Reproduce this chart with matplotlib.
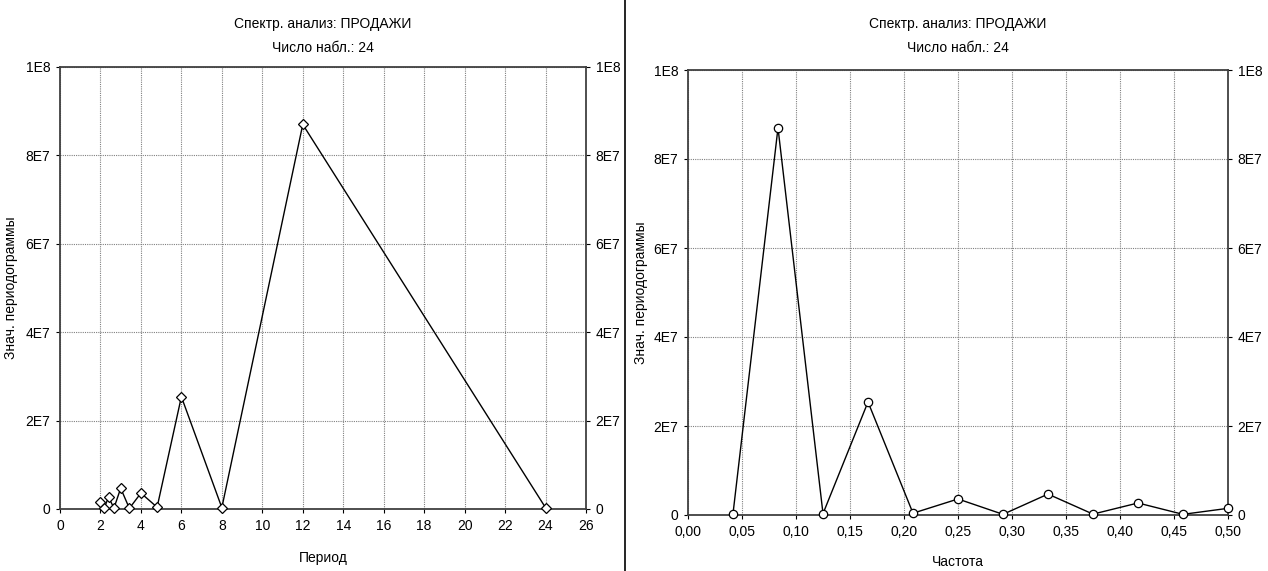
import matplotlib
matplotlib.use("Agg")
import matplotlib.pyplot as plt
from matplotlib.lines import Line2D

plt.rcParams['font.family'] = ['Liberation Sans Narrow', 'Liberation Sans', 'DejaVu Sans']

# Data
title1 = "Спектр. анализ: ПРОДАЖИ"
title2 = "Число набл.: 24"
frequencies = [0.04167, 0.08333, 0.125, 0.16667, 0.20833, 0.25, 0.29167,
               0.33333, 0.375, 0.41667, 0.45833, 0.5]
periods = [24, 12, 8, 6, 4.8, 4, 3.4286, 3, 2.6667, 2.4, 2.1818, 2]
periodogram = [0.3e6, 87.0e6, 0.3e6, 25.4e6, 0.4e6, 3.6e6, 0.15e6,
               4.7e6, 0.2e6, 2.7e6, 0.15e6, 1.5e6]
y_ticks = [0, 2e7, 4e7, 6e7, 8e7, 1e8]
y_labels = ['0', '2E7', '4E7', '6E7', '8E7', '1E8']
period_ticks = list(range(0, 27, 2))
freq_ticks = [0.0, 0.05, 0.10, 0.15, 0.20, 0.25, 0.30, 0.35, 0.40, 0.45, 0.50]

W, H = 1268, 571
fig = plt.figure(figsize=(W / 100, H / 100), dpi=100)
fs = 10


def make_axes(l, t, r, b):
    return fig.add_axes([l / W, 1 - b / H, (r - l) / W, (b - t) / H])


def style(ax, xlabel, xticks, xticklabels, xlim, ylabelpad, titlepad, xlabelpad):
    ax.set_ylim(0, 1e8)
    ax.set_xlim(*xlim)
    ax.set_yticks(y_ticks)
    ax.set_yticklabels(y_labels)
    ax.set_xticks(xticks)
    ax.set_xticklabels(xticklabels)
    ax.grid(True, color='#808080', linestyle=(0, (1, 1)), linewidth=0.8)
    ax.tick_params(axis='both', direction='out', length=3, width=0.8,
                   labelsize=fs, colors='black', pad=4)
    ax.tick_params(axis='y', right=True, labelright=True)
    for s in ax.spines.values():
        s.set_linewidth(1.3)
        s.set_color('#404040')
    ax.set_xlabel(xlabel, fontsize=fs, labelpad=xlabelpad)
    ax.set_ylabel('Знач. периодограммы', fontsize=fs, labelpad=ylabelpad)
    ax.set_title(title1 + "\n" + title2, fontsize=fs, linespacing=1.9, pad=titlepad)


ax1 = make_axes(60, 67, 586, 509)
ax1.plot(periods, periodogram, color='black', linewidth=1.0, marker='D',
         markersize=5.5, markerfacecolor='white', markeredgecolor='black',
         markeredgewidth=0.9, clip_on=False, zorder=3)
style(ax1, 'Период', period_ticks, [str(t) for t in period_ticks], (0, 26),
      ylabelpad=5, titlepad=11, xlabelpad=13)

ax2 = make_axes(688, 70, 1228, 515)
ax2.plot(frequencies, periodogram, color='black', linewidth=1.0, marker='o',
         markersize=6, markerfacecolor='white', markeredgecolor='black',
         markeredgewidth=0.9, clip_on=False, zorder=3)
style(ax2, 'Частота', freq_ticks,
      [f"{t:.2f}".replace('.', ',') for t in freq_ticks], (0, 0.5),
      ylabelpad=4, titlepad=13, xlabelpad=12)

# divider line between panels
fig.add_artist(Line2D([625 / W, 625 / W], [0, 1], color='black',
                      linewidth=1.2, transform=fig.transFigure))

fig.savefig('out.png', dpi=100, facecolor='white')
